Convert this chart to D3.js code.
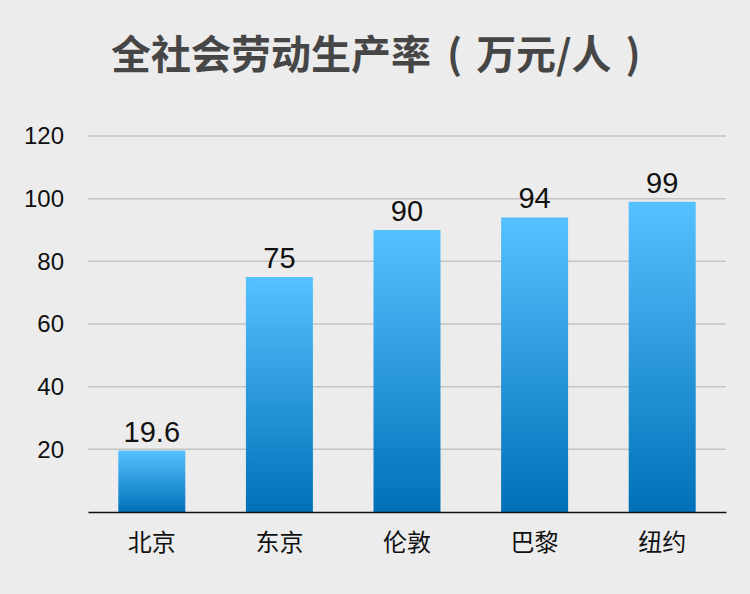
<html>
<head>
<script src="https://d3js.org/d3.v7.min.js"></script>
<style>
  body { margin: 0; background: #ececec; }
  text { font-family: "Noto Sans CJK SC", "Liberation Sans", sans-serif; }
</style>
</head>
<body>
<div id="chart"></div>
<script>
// city names and productivity values (10k yuan per person)
var cities = ["北京", "东京", "伦敦", "巴黎", "纽约"];
var values = [19.6, 75, 90, 94, 99];
var valueLabels = ["19.6", "75", "90", "94", "99"];
var yTicks = [20, 40, 60, 80, 100, 120];

var W = 750, H = 594;
var margin = {top: 136, bottom: 82, left: 88, right: 24};
var width = W - margin.left - margin.right;
var height = H - margin.top - margin.bottom;

var svg = d3.select("#chart").append("svg")
    .attr("width", W).attr("height", H);

svg.append("rect").attr("width", W).attr("height", H).attr("fill", "#ececec");

// gradient for the bars
var grad = svg.append("defs").append("linearGradient")
    .attr("id", "barGrad").attr("x1", 0).attr("y1", 0).attr("x2", 0).attr("y2", 1);
grad.append("stop").attr("offset", "0%").attr("stop-color", "#56c1ff");
grad.append("stop").attr("offset", "100%").attr("stop-color", "#0071b9");

// title, brackets spaced out like the original
var title = svg.append("text")
    .attr("x", 111).attr("y", 69)
    .attr("font-size", 40).attr("font-weight", "bold")
    .attr("fill", "#464646");
title.append("tspan").text("全社会劳动生产率");
title.append("tspan").attr("dx", 16).text("(");
title.append("tspan").attr("dx", 14).text("万元/人");
title.append("tspan").attr("dx", 14).text(")");

var g = svg.append("g").attr("transform", "translate(" + margin.left + "," + margin.top + ")");

var x = d3.scaleBand().domain(cities).range([0, width]).paddingInner(0.475).paddingOuter(0.2375);
var y = d3.scaleLinear().domain([0, 120]).range([height, 0]);

// gridlines
g.selectAll(".grid").data(yTicks).enter().append("line")
    .attr("x1", 0).attr("x2", width)
    .attr("y1", function(d){ return y(d); })
    .attr("y2", function(d){ return y(d); })
    .attr("stroke", "#c4c4c4").attr("stroke-width", 1.5);

// y axis labels
var yAxis = g.append("g").call(d3.axisLeft(y).tickValues(yTicks).tickSize(0).tickPadding(24));
yAxis.select(".domain").remove();
yAxis.selectAll("text").attr("font-size", 24).attr("fill", "#111")
    .style("font-family", "'Liberation Sans', sans-serif");

g.selectAll(".bar").data(values).enter().append("rect")
    .attr("x", function(d, i){ return x(cities[i]); })
    .attr("width", x.bandwidth())
    .attr("y", function(d){ return y(d); })
    .attr("height", function(d){ return height - y(d); })
    .attr("fill", "url(#barGrad)");

g.selectAll(".val").data(values).enter().append("text")
    .attr("x", function(d, i){ return x(cities[i]) + x.bandwidth() / 2; })
    .attr("y", function(d){ return y(d) - 9; })
    .attr("text-anchor", "middle")
    .attr("font-size", 29).attr("fill", "#111")
    .style("font-family", "'Liberation Sans', sans-serif")
    .text(function(d, i){ return valueLabels[i]; });

// x axis
var xAxis = g.append("g").attr("transform", "translate(0," + height + ")")
    .call(d3.axisBottom(x).tickSize(0).tickPadding(22));
xAxis.select(".domain").attr("stroke", "#111").attr("stroke-width", 1.5);
xAxis.selectAll("text").attr("font-size", 24).attr("fill", "#111");
</script>
</body>
</html>
